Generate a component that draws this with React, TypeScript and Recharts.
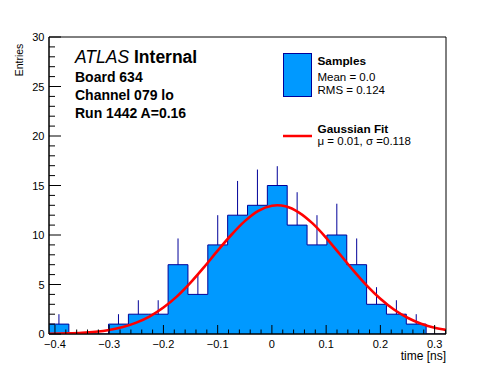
import React from 'react';
import { ComposedChart, Area, Line, Scatter, ErrorBar, XAxis, YAxis, ReferenceArea, Legend } from 'recharts';

// histogram range (ns) and bin contents
const X_MIN = -0.411;
const X_MAX = 0.321;
const COUNTS = [1, 0, 0, 1, 2, 2, 7, 4, 9, 12, 13, 15, 11, 9, 10, 7, 3, 2, 1, 0];
const ERRORS = [1, 0, 0, 1, 1.41, 1.41, 2.65, 2, 3, 3.46, 3.61, 1.95, 3.32, 3, 3.16, 2.65, 1.73, 1.41, 1, 0];

// gaussian fit curve, sampled along the red line
const CURVE_X = [-0.411, -0.375, -0.35, -0.325, -0.3, -0.275, -0.25, -0.225, -0.2, -0.175, -0.15, -0.125, -0.1, -0.075, -0.05, -0.025, 0, 0.01, 0.025, 0.05, 0.075, 0.1, 0.125, 0.15, 0.175, 0.2, 0.225, 0.25, 0.275, 0.3, 0.321];
const CURVE_Y = [0.02, 0.06, 0.12, 0.23, 0.41, 0.7, 1.15, 1.79, 2.67, 3.8, 5.19, 6.76, 8.42, 10.0, 11.4, 12.44, 12.95, 13.0, 12.9, 12.27, 11.17, 9.72, 8.08, 6.43, 4.89, 3.56, 2.47, 1.64, 1.04, 0.63, 0.41];

const Y_TICKS = Array.from({ length: 31 }, (_, i) => i);
const X_TICKS = Array.from({ length: 37 }, (_, i) => Math.round((-0.4 + i * 0.02) * 1000) / 1000);

const INFO_LINES = ['Board 634', 'Channel 079 lo', 'Run 1442 A=0.16'];
const SAMPLES_LINES = ['Mean = 0.0', 'RMS = 0.124'];
const FIT_LINE = 'μ = 0.01, σ =0.118';

const FILL = '#0099ff';
const EDGE = '#000099';
const FONT = '"Liberation Sans", Arial, Helvetica, sans-serif';

const N = COUNTS.length;
const BIN_W = (X_MAX - X_MIN) / N;
const histData = [
    ...COUNTS.map((c, i) => ({ x: X_MIN + i * BIN_W, y: c })),
    { x: X_MAX, y: COUNTS[N - 1] },
];
const errData = COUNTS.map((c, i) => ({ x: X_MIN + (i + 0.5) * BIN_W, y: c, err: [0, ERRORS[i]] })).filter(d => d.y > 0);
const curveData = CURVE_X.map((x, i) => ({ x, y: CURVE_Y[i] }));

const fmtX = (v: number) => (v === 0 ? '0' : (v < 0 ? '\u2212' : '') + Math.abs(v).toFixed(1));

const XTick = (props: any) => {
    const { x, y, payload } = props;
    const v = payload.value;
    const major = Math.abs(v * 10 - Math.round(v * 10)) < 1e-6;
    return (
        <g>
            <line x1={x} x2={x} y1={y} y2={y - (major ? 9 : 4.5)} stroke="#000" />
            {major && (
                <text x={x} y={y + 13.5} textAnchor="middle" fontSize={11} fontFamily={FONT} fill="#000">
                    {fmtX(v)}
                </text>
            )}
        </g>
    );
};

const YTick = (props: any) => {
    const { x, y, payload } = props;
    const v = payload.value;
    const major = v % 5 === 0;
    return (
        <g>
            <line x1={x} x2={x + (major ? 12 : 6)} y1={y} y2={y} stroke="#000" />
            {major && (
                <text x={x - 4.5} y={y + 4} textAnchor="end" fontSize={11} fontFamily={FONT} fill="#000">
                    {v}
                </text>
            )}
        </g>
    );
};

const LegendBox = () => (
    <svg width={175} height={110} style={{ fontFamily: FONT, overflow: 'visible' }}>
        <rect x={7.5} y={5.5} width={28} height={43} fill={FILL} stroke={EDGE} />
        <text x={41.5} y={17} fontSize={11.8} fontWeight="bold">Samples</text>
        {SAMPLES_LINES.map((t, i) => (
            <text key={t} x={41.5} y={32.7 + i * 13.3} fontSize={11.5}>{t}</text>
        ))}
        <line x1={7} x2={36} y1={88} y2={88} stroke="#ff0000" strokeWidth={2.5} />
        <text x={41.5} y={85.3} fontSize={11.8} fontWeight="bold">Gaussian Fit</text>
        <text x={41.5} y={97.3} fontSize={11.5}>{FIT_LINE}</text>
    </svg>
);

export default function App() {
    return (
        <div style={{ position: 'absolute', left: 0, top: 0, width: 496, height: 372, background: '#fff' }}>
            <ComposedChart width={496} height={372} margin={{ top: 37, right: 50, bottom: 0, left: 0 }}>
                <XAxis
                    type="number"
                    dataKey="x"
                    domain={[X_MIN, X_MAX]}
                    allowDataOverflow
                    ticks={X_TICKS}
                    interval={0}
                    tick={<XTick />}
                    tickSize={0}
                    tickMargin={0}
                    tickLine={false}
                    height={38}
                    stroke="#000"
                />
                <YAxis
                    type="number"
                    domain={[0, 30]}
                    allowDataOverflow
                    ticks={Y_TICKS}
                    interval={0}
                    tick={<YTick />}
                    tickSize={0}
                    tickMargin={0}
                    tickLine={false}
                    width={49}
                    stroke="#000"
                />
                <Area
                    data={histData}
                    dataKey="y"
                    name="Samples"
                    type="stepAfter"
                    stroke={EDGE}
                    strokeWidth={1}
                    fill={FILL}
                    fillOpacity={1}
                    dot={false}
                    activeDot={false}
                    isAnimationActive={false}
                />
                <Scatter data={errData} dataKey="y" shape={() => <g />} isAnimationActive={false} legendType="none">
                    <ErrorBar dataKey="err" direction="y" width={0} stroke={EDGE} strokeWidth={1} isAnimationActive={false} />
                </Scatter>
                <Line
                    data={curveData}
                    dataKey="y"
                    name="Gaussian Fit"
                    type="monotone"
                    stroke="#ff0000"
                    strokeWidth={2.6}
                    dot={false}
                    activeDot={false}
                    isAnimationActive={false}
                />
                <ReferenceArea x1={X_MIN} x2={X_MAX} y1={0} y2={30} fill="none" stroke="#000" strokeWidth={1} />
                <Legend
                    layout="horizontal"
                    verticalAlign="middle"
                    align="center"
                    content={<LegendBox />}
                    wrapperStyle={{ position: 'absolute', left: 276, top: 48, width: 175, height: 110 }}
                />
            </ComposedChart>
            <svg
                width={496}
                height={372}
                style={{ position: 'absolute', left: 0, top: 0, pointerEvents: 'none', fontFamily: FONT }}
            >
                <text x={75} y={63} fontSize={17.5}>
                    <tspan fontStyle="italic">ATLAS</tspan>
                    <tspan fontWeight="bold"> Internal</tspan>
                </text>
                {INFO_LINES.map((t, i) => (
                    <text key={t} x={75} y={81.7 + i * 18.3} fontSize={14} fontWeight="bold">{t}</text>
                ))}
                <text x={22.5} y={60} transform="rotate(-90 22.5 60)" textAnchor="middle" fontSize={10.5}>Entries</text>
                <text x={446} y={360} textAnchor="end" fontSize={12}>time [ns]</text>
            </svg>
        </div>
    );
}
